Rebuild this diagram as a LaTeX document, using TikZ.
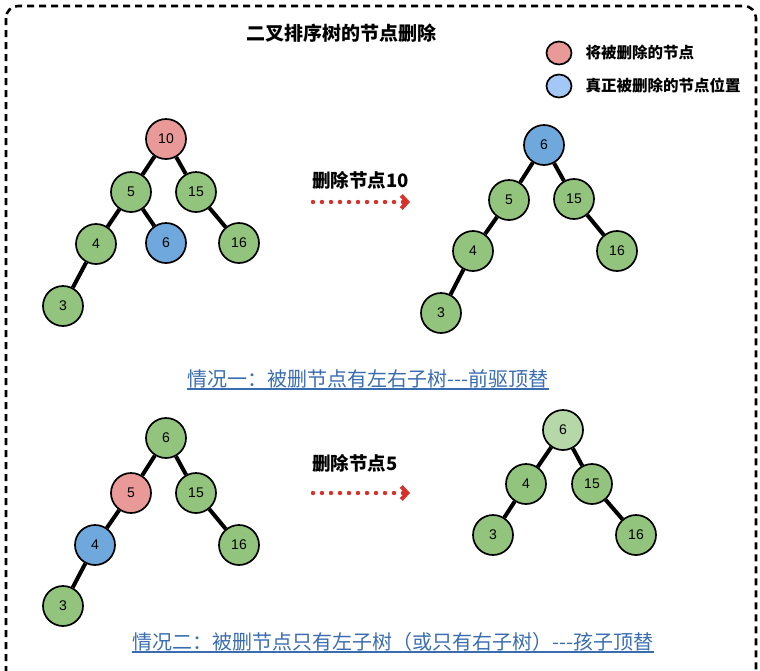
\documentclass[tikz,border=0pt]{standalone}
\usepackage{fontspec}
\setmainfont{Liberation Sans}
\newfontfamily\cjk{Noto Sans CJK SC}
\usetikzlibrary{arrows.meta, positioning, shapes.geometric}
\definecolor{delred}{HTML}{EA9999}
\definecolor{realblue}{HTML}{6FA8DC}
\definecolor{legblue}{HTML}{A4C8F5}
\definecolor{keepgreen}{HTML}{93C47D}
\definecolor{newgreen}{HTML}{B6D7A8}
\definecolor{arrowred}{HTML}{D8302A}
\definecolor{caseblue}{HTML}{3A6DB0}

\begin{document}
\begin{tikzpicture}[x=1pt, y=-1pt,
  bst/.style={circle, draw=black, line width=1.7pt, fill=keepgreen, minimum size=40pt, inner sep=0pt, font=\fontsize{14}{16}\selectfont},
  delnode/.style={bst, fill=delred},
  realnode/.style={bst, fill=realblue},
  newroot/.style={bst, fill=newgreen},
  link/.style={draw=black, line width=4pt},
  legdot/.style={ellipse, draw=black, line width=1.7pt, minimum width=25pt, minimum height=23pt, inner sep=0pt},
  legtext/.style={font=\cjk\bfseries\fontsize{15.5}{18}\selectfont, inner sep=0pt},
  steptext/.style={font=\cjk\bfseries\fontsize{18.5}{22}\selectfont, anchor=west, inner sep=0pt},
  delarrow/.style={draw=arrowred, line width=4.4pt, line cap=round, dash pattern=on 0pt off 9pt, -{Straight Barb[length=6pt, width=13pt, line width=4pt]}},
  casetext/.style={font=\cjk\fontsize{20}{24}\selectfont, text=caseblue, anchor=base, inner sep=0pt},
  caseline/.style={draw=caseblue, line width=1.2pt}
]
\useasboundingbox (0,0) rectangle (760,670);
\begin{scope}
\clip (0,0) rectangle (760,670);
\draw[line width=2.6pt, dash pattern=on 7pt off 5pt, rounded corners=12pt] (6,6) rectangle (756,700);
\end{scope}

\node[font=\cjk\bfseries\fontsize{19}{22}\selectfont] (title) at (341,33) {二叉排序树的节点删除};
\node[legdot, fill=delred]  (leg1) at (559,53) {};
\node[legdot, fill=legblue] (leg2) at (559,86) {};
\node[legtext, right=13pt of leg1] (leg1t) {将被删除的节点};
\node[legtext, right=13pt of leg2] (leg2t) {真正被删除的节点位置};

\node[delnode]  (a10) at (166,139) {10};
\node[bst]      (a5)  at (131,192) {5};
\node[bst]      (a15) at (196,192) {15};
\node[bst]      (a4)  at (96,244)  {4};
\node[realnode] (a6)  at (166,243) {6};
\node[bst]      (a16) at (239,243) {16};
\node[bst]      (a3)  at (63,306)  {3};
\draw[link] (a10) -- (a5);
\draw[link] (a10) -- (a15);
\draw[link] (a5) -- (a4);
\draw[link] (a5) -- (a6);
\draw[link] (a15) -- (a16);
\draw[link] (a4) -- (a3);

\node[steptext] (step1) at (312,180) {删除节点10};
\coordinate (s1from) at (313,202);
\coordinate (s1to)   at (410,202);
\draw[delarrow] (s1from) -- (s1to);

\node[realnode] (b6)  at (544,145) {6};
\node[bst]      (b5)  at (509,200) {5};
\node[bst]      (b15) at (574,199) {15};
\node[bst]      (b4)  at (473,251) {4};
\node[bst]      (b16) at (617,251) {16};
\node[bst]      (b3)  at (441,313) {3};
\draw[link] (b6) -- (b5);
\draw[link] (b6) -- (b15);
\draw[link] (b5) -- (b4);
\draw[link] (b15) -- (b16);
\draw[link] (b4) -- (b3);

\node[casetext] (case1) at (368,386) {情况一：被删节点有左右子树-\kern0pt-\kern0pt-前驱顶替};
\draw[caseline] ([yshift=-3pt]case1.base west) -- ([yshift=-3pt]case1.base east);

\node[bst]      (c6)  at (166,438) {6};
\node[delnode]  (c5)  at (131,493) {5};
\node[bst]      (c15) at (196,493) {15};
\node[realnode] (c4)  at (95,545)  {4};
\node[bst]      (c16) at (239,545) {16};
\node[bst]      (c3)  at (63,606)  {3};
\draw[link] (c6) -- (c5);
\draw[link] (c6) -- (c15);
\draw[link] (c5) -- (c4);
\draw[link] (c15) -- (c16);
\draw[link] (c4) -- (c3);

\node[steptext] (step2) at (312,463) {删除节点5};
\coordinate (s2from) at (313,493);
\coordinate (s2to)   at (410,493);
\draw[delarrow] (s2from) -- (s2to);

\node[newroot] (d6)  at (563,430) {6};
\node[bst]     (d4)  at (526,484) {4};
\node[bst]     (d15) at (592,484) {15};
\node[bst]     (d3)  at (493,535) {3};
\node[bst]     (d16) at (636,535) {16};
\draw[link] (d6) -- (d4);
\draw[link] (d6) -- (d15);
\draw[link] (d4) -- (d3);
\draw[link] (d15) -- (d16);

\node[casetext] (case2) at (393,649) {情况二：被删节点只有左子树（或只有右子树）-\kern0pt-\kern0pt-孩子顶替};
\draw[caseline] ([yshift=-3pt]case2.base west) -- ([yshift=-3pt]case2.base east);
\end{tikzpicture}
\end{document}
